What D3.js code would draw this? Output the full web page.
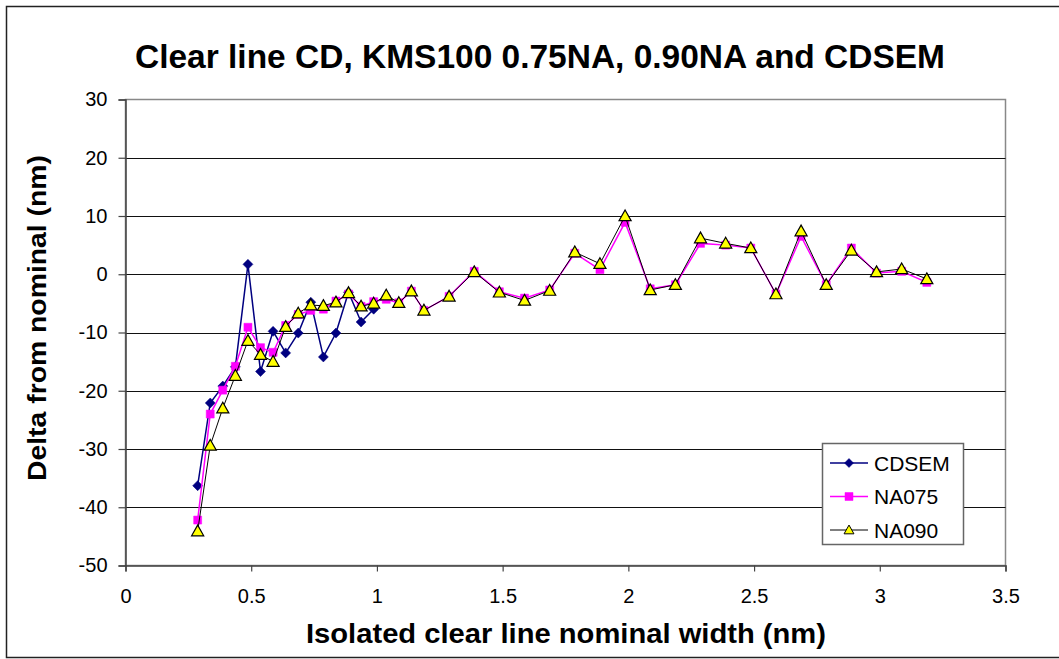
<!DOCTYPE html>
<html>
<head>
<meta charset="utf-8">
<script src="https://cdn.jsdelivr.net/npm/d3@7"></script>
<style>
    body { margin: 0; background: #fff; }
    svg { display: block; font-family: 'Liberation Sans', Arial, sans-serif; }
</style>
</head>
<body>
<div id="chart"></div>
<script>
// Nominal widths (nm) - CDSEM only measured up to ~1
const cdsemWidths = [0.287, 0.337, 0.387, 0.437, 0.487, 0.537, 0.587, 0.637, 0.687, 0.737,
    0.787, 0.837, 0.887, 0.937, 0.987]
const cdsemDelta = [-36.3, -22.1, -19.2, -15.9, 1.7, -16.7, -9.8, -13.5, -10.1, -4.8,
    -14.2, -10.1, -3.1, -8.2, -6.0]

const naWidths = [0.287, 0.337, 0.387, 0.437, 0.487, 0.537, 0.587, 0.637, 0.687, 0.737,
    0.787, 0.837, 0.887, 0.937, 0.987, 1.037, 1.087, 1.137, 1.187, 1.287,
    1.387, 1.487, 1.587, 1.687, 1.787, 1.887, 1.987, 2.087, 2.187, 2.287,
    2.387, 2.487, 2.587, 2.687, 2.787, 2.887, 2.987, 3.087, 3.187]
const na075Delta = [-42.2, -24.0, -19.9, -15.8, -9.1, -12.6, -13.4, -8.8, -6.9, -6.2,
    -6.0, -4.6, -3.4, -5.5, -4.7, -4.3, -4.9, -2.9, -6.2, -3.8,
    0.5, -3.0, -4.1, -2.7, 3.6, 0.8, 8.9, -2.5, -1.8, 5.3,
    5.0, 4.5, -3.4, 6.5, -1.8, 4.5, 0.2, 0.5, -1.4]
const na090Delta = [-44.1, -29.4, -23.0, -17.4, -11.4, -13.8, -15.0, -9.0, -6.7, -5.3,
    -5.4, -4.8, -3.2, -5.5, -5.0, -3.6, -4.9, -2.9, -6.2, -3.8,
    0.4, -3.1, -4.5, -2.8, 3.8, 1.8, 10.0, -2.7, -1.8, 6.2,
    5.3, 4.5, -3.4, 7.4, -1.8, 4.1, 0.4, 0.9, -0.8]

const xTicks = [0, 0.5, 1, 1.5, 2, 2.5, 3, 3.5]
const yTicks = [-50, -40, -30, -20, -10, 0, 10, 20, 30]

const series = [
    { name: 'CDSEM', xs: cdsemWidths, ys: cdsemDelta, line: '#000080', lineWidth: 1.5, marker: 'diamond', fill: '#000080', stroke: '#000080' },
    { name: 'NA075', xs: naWidths, ys: na075Delta, line: '#ff00ff', lineWidth: 1.5, marker: 'square', fill: '#ff00ff', stroke: '#ff00ff' },
    { name: 'NA090', xs: naWidths, ys: na090Delta, line: '#000000', lineWidth: 1, marker: 'triangle', fill: '#ffff00', stroke: '#000000' }
]

const W = 1059, H = 659
const plot = { left: 125.5, right: 1005.5, top: 99.5, bottom: 565.5 }

const svg = d3.select('#chart').append('svg')
    .attr('width', W)
    .attr('height', H)

// Outer chart frame
svg.append('rect')
    .attr('x', 6.5).attr('y', 6.5)
    .attr('width', 1060).attr('height', 651)
    .attr('fill', '#fff')
    .attr('stroke', '#222')
    .attr('stroke-width', 1.5)

const x = d3.scaleLinear().domain([0, 3.5]).range([plot.left, plot.right])
const y = d3.scaleLinear().domain([-50, 30]).range([plot.bottom, plot.top])

// Plot area border (grey), gridlines on top
svg.append('rect')
    .attr('x', plot.left).attr('y', plot.top)
    .attr('width', plot.right - plot.left).attr('height', plot.bottom - plot.top)
    .attr('fill', 'none')
    .attr('stroke', '#888')
    .attr('stroke-width', 1.5)

svg.append('g')
    .selectAll('line')
    .data(yTicks.filter(d => d > -50 && d < 30))
    .enter()
    .append('line')
    .attr('x1', plot.left).attr('x2', plot.right)
    .attr('y1', d => Math.round(y(d)) + 0.5).attr('y2', d => Math.round(y(d)) + 0.5)
    .attr('stroke', '#111')
    .attr('stroke-width', 1.2)

// Axes - plain hyphen for negatives, like the original
const yAxis = svg.append('g')
    .attr('transform', `translate(${plot.left},0)`)
    .call(d3.axisLeft(y).tickValues(yTicks).tickSize(7).tickPadding(11).tickFormat(d => String(d)))
const xAxis = svg.append('g')
    .attr('transform', `translate(0,${plot.bottom})`)
    .call(d3.axisBottom(x).tickValues(xTicks).tickSize(6).tickPadding(17).tickFormat(d => String(d)))

for (const ax of [xAxis, yAxis]) {
    ax.select('.domain').attr('stroke', '#444').attr('stroke-width', 1.5)
    ax.selectAll('line').attr('stroke', '#444').attr('stroke-width', 1.2)
    ax.selectAll('text')
        .attr('fill', '#000')
        .style('font-family', "'Liberation Sans', Arial, sans-serif")
        .style('font-size', '20px')
}

// Series lines + markers
const markerPath = (type, s) => {
    if (type === 'diamond') return `M0,${-s}L${s},0L0,${s}L${-s},0Z`
    if (type === 'square') return `M${-s},${-s}H${s}V${s}H${-s}Z`
    return `M0,${-s * 1.1}L${s * 1.1},${s * 0.85}L${-s * 1.1},${s * 0.85}Z`
}

series.forEach(s => {
    const pts = s.xs.map((v, i) => [v, s.ys[i]])
    const line = d3.line().x(d => x(d[0])).y(d => y(d[1]))
    const g = svg.append('g')
    g.append('path')
        .attr('d', line(pts))
        .attr('fill', 'none')
        .attr('stroke', s.line)
        .attr('stroke-width', s.lineWidth)
    g.selectAll('path.mark')
        .data(pts)
        .enter()
        .append('path')
        .attr('class', 'mark')
        .attr('transform', d => `translate(${x(d[0])},${y(d[1])})`)
        .attr('d', s.marker === 'diamond' ? markerPath('diamond', 5) : s.marker === 'square' ? markerPath('square', 4) : markerPath('triangle', 5.5))
        .attr('fill', s.fill)
        .attr('stroke', s.stroke)
        .attr('stroke-width', s.marker === 'triangle' ? 1.2 : 0.5)
})

// Titles (the original font is tall and narrow, so squeeze it)
svg.append('text')
    .attr('x', 540).attr('y', 68)
    .attr('text-anchor', 'middle')
    .attr('textLength', 810)
    .attr('lengthAdjust', 'spacingAndGlyphs')
    .style('font-size', '33px')
    .style('font-weight', 'bold')
    .text('Clear line CD, KMS100 0.75NA, 0.90NA and CDSEM')

svg.append('text')
    .attr('x', 566).attr('y', 643)
    .attr('text-anchor', 'middle')
    .attr('textLength', 520)
    .attr('lengthAdjust', 'spacingAndGlyphs')
    .style('font-size', '27px')
    .style('font-weight', 'bold')
    .text('Isolated clear line nominal width (nm)')

svg.append('text')
    .attr('transform', 'translate(46,318) rotate(-90)')
    .attr('text-anchor', 'middle')
    .attr('textLength', 326)
    .attr('lengthAdjust', 'spacingAndGlyphs')
    .style('font-size', '26px')
    .style('font-weight', 'bold')
    .text('Delta from nominal (nm)')

// Legend
const legend = svg.append('g')
legend.append('rect')
    .attr('x', 822.5).attr('y', 443.5)
    .attr('width', 141).attr('height', 101)
    .attr('fill', '#fff')
    .attr('stroke', '#666')
    .attr('stroke-width', 1.5)

const legendY = d3.scalePoint().domain(series.map(s => s.name)).range([463, 530])
series.forEach(s => {
    const ly = legendY(s.name)
    legend.append('line')
        .attr('x1', 830).attr('x2', 868)
        .attr('y1', ly).attr('y2', ly)
        .attr('stroke', s.line)
        .attr('stroke-width', s.lineWidth)
    legend.append('path')
        .attr('transform', `translate(849,${ly})`)
        .attr('d', s.marker === 'diamond' ? markerPath('diamond', 4.5) : s.marker === 'square' ? markerPath('square', 4) : markerPath('triangle', 4.5))
        .attr('fill', s.fill)
        .attr('stroke', s.stroke)
        .attr('stroke-width', s.marker === 'triangle' ? 1 : 0.5)
    legend.append('text')
        .attr('x', 874).attr('y', ly + 7.5)
        .style('font-size', '21px')
        .text(s.name)
})
</script>
</body>
</html>
